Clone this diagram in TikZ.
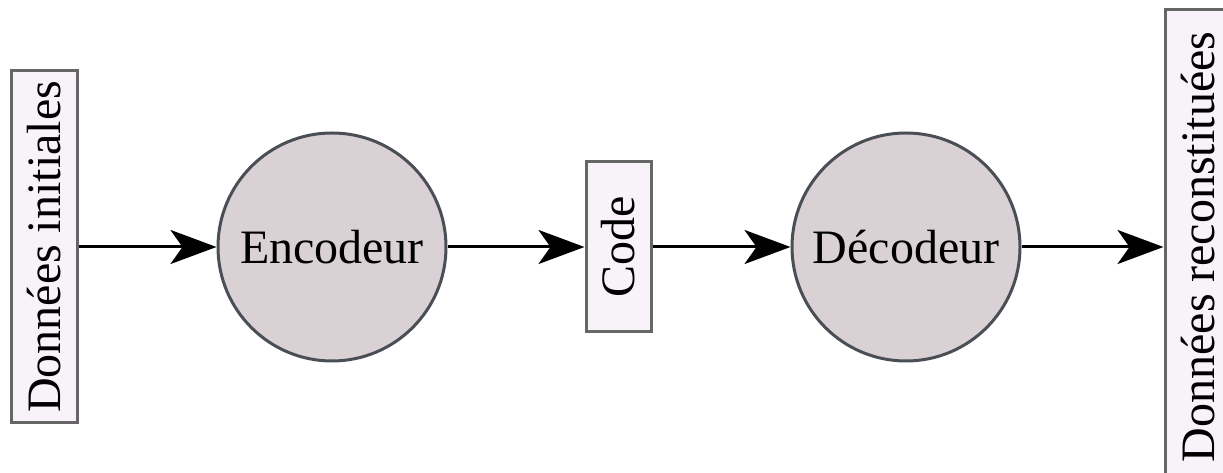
\documentclass[tikz,border=0pt]{standalone}
\usepackage{fontspec}
\setmainfont{Liberation Serif}
\usetikzlibrary{arrows.meta}

\definecolor{boxfill}{HTML}{F8F3F9}
\definecolor{boxline}{HTML}{666666}
\definecolor{blockfill}{HTML}{DAD1D5}
\definecolor{blockline}{HTML}{4A4E55}

\begin{document}
\begin{tikzpicture}[x=1pt,y=1pt,
  databox/.style={draw=boxline,fill=boxfill,line width=3pt,rotate=90,minimum height=66pt,inner sep=0pt},
  block/.style={circle,draw=blockline,fill=blockfill,line width=3pt,minimum size=228pt,inner sep=0pt},
  flow/.style={-{Stealth[length=46pt,width=34pt,inset=12pt]},line width=3pt},
  font=\fontsize{48}{57}\selectfont]

  \useasboundingbox (0,0) rectangle (1223,473);

  \node[databox,minimum width=352pt] (in) at (44,226) {Données initiales};
  \node[block] (enc) at (332,226) {Encodeur};
  \node[databox,minimum width=170pt,minimum height=65pt] (code) at (618.5,226) {Code};
  \node[block] (dec) at (906,226) {Décodeur};
  \node[databox,minimum width=475pt] (out) at (1198,226) {Données reconstituées};

  \draw[flow] (in) -- (enc);
  \draw[flow] (enc) -- (code);
  \draw[flow] (code) -- (dec);
  \draw[flow] (dec) -- (out);

\end{tikzpicture}
\end{document}
